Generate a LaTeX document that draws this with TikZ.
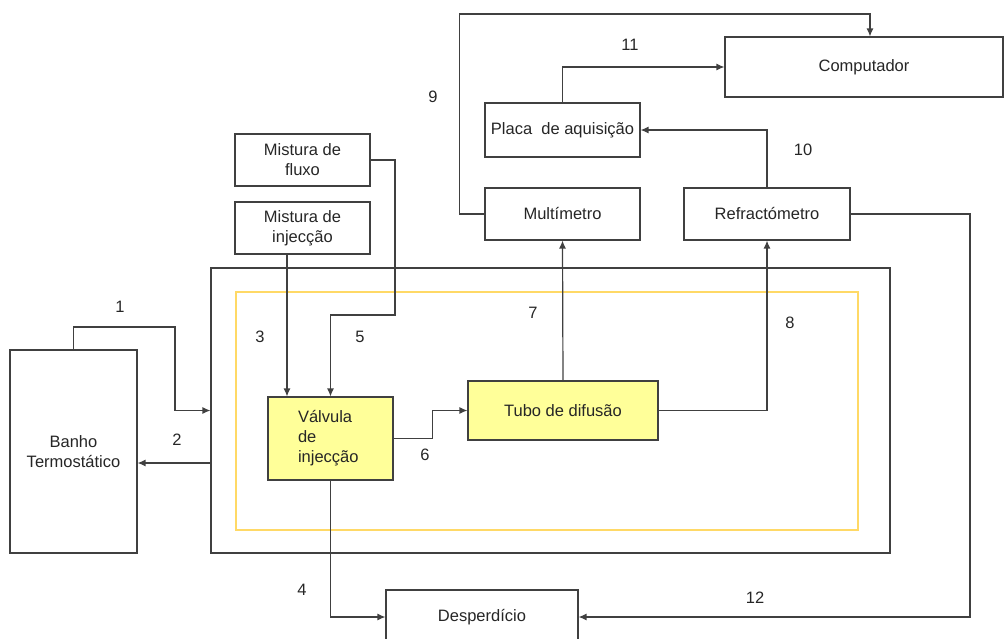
\documentclass[tikz,border=0pt]{standalone}
\usepackage{fontspec}
\setmainfont{Liberation Sans}
\usetikzlibrary{arrows.meta}
\definecolor{ln}{HTML}{404040}
\definecolor{yb}{HTML}{FFD966}
\definecolor{yf}{HTML}{FFFF99}
\begin{document}
\begin{tikzpicture}[x=1pt,y=-1pt,
  every node/.style={font=\fontsize{16.5}{20}\selectfont, text=black!85},
  box/.style={draw=ln, line width=1.1pt, fill=white, inner sep=0pt, align=center},
  ybox/.style={box, fill=yf},
  arr/.style={draw=ln, line width=1.2pt, -{Latex[length=8pt,width=7pt]}},
  lbl/.style={inner sep=0pt}]
\useasboundingbox (0,0) rectangle (1005,638);
% frames
\node[draw=ln, line width=1.1pt, minimum width=679, minimum height=285, inner sep=0pt] (outer) at (550.5,410.5) {};
\node[draw=yb, line width=1.3pt, minimum width=622, minimum height=238, inner sep=0pt] (inner) at (547,411) {};
% boxes
\node[box, minimum width=278, minimum height=60] (comp) at (864,67) {Computador};
\node[box, minimum width=155, minimum height=54] (placa) at (562.5,130) {Placa\ \ de aquisição};
\node[box, minimum width=155, minimum height=52] (multi) at (562.5,214) {Multímetro};
\node[box, minimum width=166, minimum height=52] (refr) at (767,214) {Refractómetro};
\node[box, minimum width=135, minimum height=52] (mf) at (302.5,160) {Mistura de\\fluxo};
\node[box, minimum width=135, minimum height=52] (mi) at (302.5,228) {Mistura de\\injecção};
\node[ybox, minimum width=125, minimum height=83, text width=65, align=left] (valv) at (330.5,438.5) {Válvula\\de\\injecção};
\node[ybox, minimum width=190, minimum height=59] (tubo) at (563,410.5) {Tubo de difusão};
\node[box, minimum width=192, minimum height=54] (des) at (482,617) {Desperdício};
\node[box, minimum width=127, minimum height=203] (banho) at (73.5,451.5) {Banho\\Termostático};
\coordinate (o2) at (211,463);
% connectors
\draw[arr] (banho.north) |- (175,327) -- (175,410.5) -- (outer.west);
\draw[arr] (o2) -- (banho.east |- o2);
\draw[arr] ([xshift=-15.5pt]mi.south) -- ([xshift=-15.5pt]mi.south |- valv.north);
\draw[arr] (mf.east) -| (395,315) -| (valv.north);
\draw[arr] (valv.south) |- (des.west);
\draw[arr] (valv.east) -- ++(39,0) |- (tubo.west);
\draw[arr] (tubo.north) -- (multi.south);
\draw[arr] (tubo.east) -| (refr.south);
\draw[arr] (multi.west) -- ++(-25,0) |- (700,14) -| ([xshift=6pt]comp.north);
\draw[arr] (refr.north) |- (placa.east);
\draw[arr] (placa.north) |- (comp.west);
\draw[arr] (refr.east) -| (970,400) |- (des.east);
% labels
\node[lbl] (l1) at (120,307) {1};
\node[lbl] (l2) at (177,440) {2};
\node[lbl] (l3) at (260,337) {3};
\node[lbl] (l4) at (302,590) {4};
\node[lbl] (l5) at (360,337) {5};
\node[lbl] (l6) at (425,455) {6};
\node[lbl] (l7) at (533,313) {7};
\node[lbl] (l8) at (790,323) {8};
\node[lbl] (l9) at (433,97) {9};
\node[lbl] (l10) at (803,150) {10};
\node[lbl] (l11) at (630,45) {11};
\node[lbl] (l12) at (755,598) {12};
\end{tikzpicture}
\end{document}
